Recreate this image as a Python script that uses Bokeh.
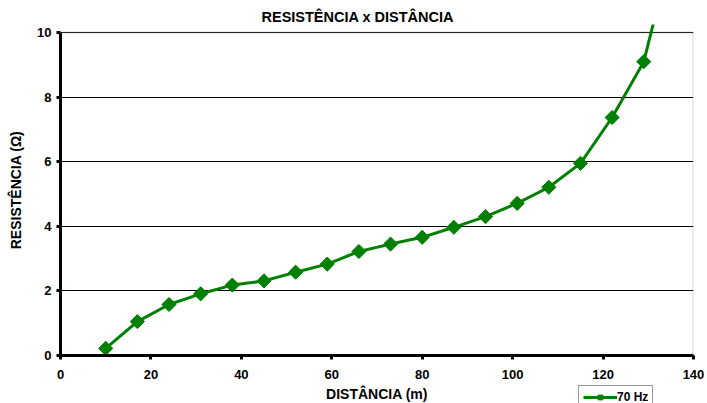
from bokeh.plotting import figure
from bokeh.layouts import column
from bokeh.models import (Range1d, FixedTicker, Legend, LegendItem, Label,
                          BoxAnnotation, ColumnDataSource)
from bokeh.embed import file_html
from bokeh.resources import INLINE
import math

# ---- data ----
distancia = [10, 17, 24, 31, 38, 45, 52, 59, 66, 73, 80, 87, 94, 101, 108, 115, 122, 129, 136]
resistencia = [0.22, 1.05, 1.58, 1.91, 2.18, 2.31, 2.58, 2.83, 3.22, 3.45, 3.66, 3.97,
               4.30, 4.71, 5.21, 5.95, 7.37, 9.10, 13.0]
x_ticks = [0, 20, 40, 60, 80, 100, 120, 140]
y_ticks = [0, 2, 4, 6, 8, 10]
series_name = "70 Hz"
title_text = "RESISTÊNCIA x DISTÂNCIA"
x_label = "DISTÂNCIA (m)"
y_label = "RESISTÊNCIA (Ω)"

GREEN = "#008000"
FONT = "Liberation Sans"
W = 707
MAIN_H = 384
STRIP_H = 403 - MAIN_H
FRAME_LEFT = 60

src = ColumnDataSource(dict(x=distancia, y=resistencia))

p = figure(width=W, height=MAIN_H, output_backend="svg", toolbar_location=None,
           x_range=Range1d(0, 140), y_range=Range1d(0, 10.25),
           min_border_left=FRAME_LEFT, min_border_right=14, min_border_top=24,
           min_border_bottom=MAIN_H - 355)
p.outline_line_color = None
p.background_fill_color = "white"
p.border_fill_color = "white"

# title
p.title.text = title_text
p.title.align = "left"
p.title.offset = 201
p.title.standoff = 0
p.title.text_font = FONT
p.title.text_font_style = "bold"
p.title.text_font_size = "14.5px"
p.title.text_color = "black"

# frame box (right border gray)
p.add_layout(BoxAnnotation(left=0, right=140, bottom=0, top=10, fill_alpha=0,
                           line_color="#808080", line_width=2, level="underlay"))

# grid
p.xgrid.grid_line_color = None
p.ygrid.ticker = FixedTicker(ticks=y_ticks)
p.ygrid.grid_line_color = "black"
p.ygrid.grid_line_width = 1

# axes
for ax in (p.xaxis[0], p.yaxis[0]):
    ax.axis_line_color = "black"
    ax.axis_line_width = 3
    ax.major_tick_line_color = "black"
    ax.major_tick_line_width = 3
    ax.major_tick_out = 4
    ax.major_tick_in = 0
    ax.minor_tick_line_color = None
    ax.major_label_text_font = FONT
    ax.major_label_text_font_style = "bold"
    ax.major_label_text_font_size = "13px"
    ax.major_label_text_color = "black"
    ax.axis_label_text_font = FONT
    ax.axis_label_text_font_style = "bold"
    ax.axis_label_text_font_size = "14px"
    ax.axis_label_text_color = "black"

p.xaxis.ticker = FixedTicker(ticks=x_ticks)
p.yaxis.ticker = FixedTicker(ticks=y_ticks)
p.yaxis.bounds = (0, 10)
p.yaxis.axis_label = y_label
p.xaxis.major_label_standoff = 10
p.yaxis.major_label_standoff = 5
p.yaxis.axis_label_standoff = 10

# series
p.line("x", "y", source=src, line_color=GREEN, line_width=3)
p.scatter("x", "y", source=src, marker="square", angle=math.pi / 4, size=10,
          fill_color=GREEN, line_color=GREEN)

# ---- bottom strip: x-axis title and legend (frame aligned with main frame) ----
# ranges chosen so the series itself lies outside this strip's view; its
# renderers only serve as legend glyph proxies
s = figure(width=W, height=STRIP_H, output_backend="svg", toolbar_location=None,
           x_range=Range1d(-2, -1), y_range=Range1d(-2, -1),
           x_axis_location=None, y_axis_location=None,
           min_border_left=FRAME_LEFT, min_border_right=14,
           min_border_top=0, min_border_bottom=0)
s.outline_line_color = None
s.grid.grid_line_color = None
s.background_fill_color = "white"
s.border_fill_color = "white"

s.add_layout(Label(x=376.5 - FRAME_LEFT, y=STRIP_H - 9.5, text=x_label,
                   x_units="screen", y_units="screen",
                   text_align="center", text_baseline="middle",
                   text_font=FONT, text_font_style="bold",
                   text_font_size="14px", text_color="black"))

leg_line = s.line("x", "y", source=src, line_color=GREEN, line_width=3)
leg_mark = s.scatter("x", "y", source=src, marker="square", angle=math.pi / 4,
                     size=6, fill_color=GREEN, line_color=GREEN)

legend = Legend(items=[LegendItem(label=series_name, renderers=[leg_line, leg_mark])],
                location=(578 - FRAME_LEFT, STRIP_H - 25),
                glyph_width=34, glyph_height=12, label_standoff=0, padding=4,
                margin=0, spacing=0, label_height=12,
                label_text_font=FONT, label_text_font_style="bold",
                label_text_font_size="12px", label_text_color="black",
                border_line_color="#333333", border_line_width=1,
                background_fill_alpha=1, background_fill_color="white")
s.add_layout(legend, "center")

layout = column(p, s, spacing=0)
open("out.html", "w").write(file_html(layout, INLINE))
